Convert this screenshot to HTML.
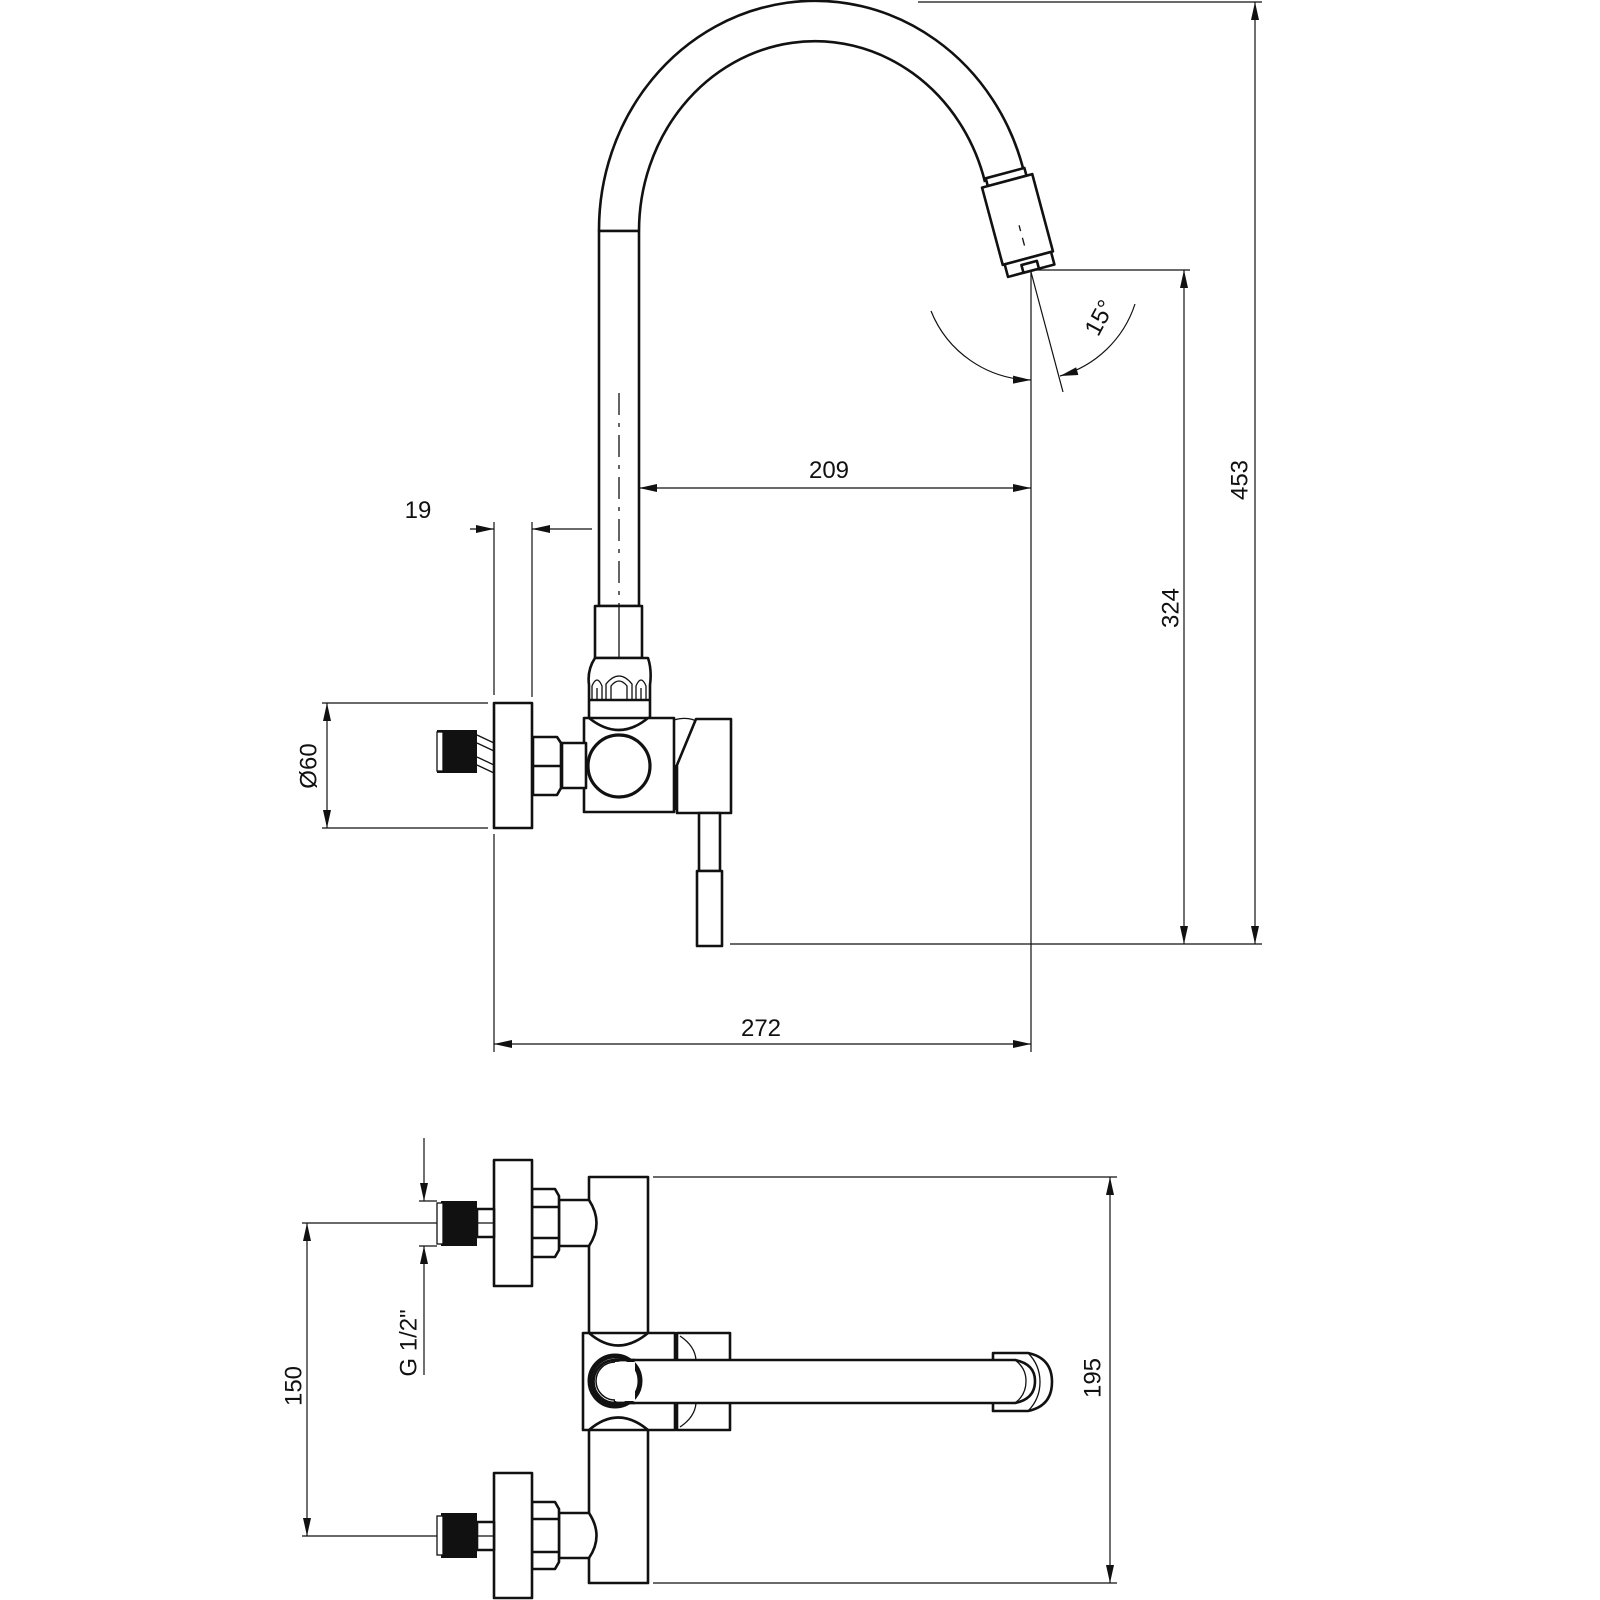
<!DOCTYPE html>
<html><head><meta charset="utf-8"><style>
html,body{margin:0;padding:0;background:#fff}
svg{display:block}
.o{fill:#fff;stroke:#111;stroke-width:2.6;stroke-linejoin:round}
.n{fill:none;stroke:#111;stroke-width:2.6}
.t{fill:none;stroke:#111;stroke-width:1.3}
.d{fill:none;stroke:#111;stroke-width:1.2}
text{font-family:"Liberation Sans Narrow","Liberation Sans",sans-serif;font-size:24px;fill:#111}
</style></head><body>
<svg width="1600" height="1600" viewBox="0 0 1600 1600" xmlns="http://www.w3.org/2000/svg">
<defs>
<marker id="a" markerUnits="userSpaceOnUse" markerWidth="20" markerHeight="10" refX="18" refY="4" orient="auto-start-reverse"><path d="M0,0 L18,4 L0,8 z" fill="#111"/></marker>
</defs>

<path class="n" d="M599,231 A216,229 0 0 1 1024,172"/>
<path class="n" d="M639,231 A176,190 0 0 1 985,182"/>
<line class="n" x1="599" y1="231" x2="639" y2="231"/>
<rect class="o" x="599" y="231" width="40" height="375"/>
<line class="t" x1="619" y1="393" x2="619" y2="606" stroke-dasharray="22,8,4,8"/>
<g transform="translate(1017.5,219.5) rotate(-15)">
<rect class="o" x="-20" y="-48" width="40" height="8"/>
<rect class="o" x="-26" y="-40" width="52" height="80"/>
<rect class="o" x="-24" y="40" width="48" height="13"/>
<rect class="o" x="-8" y="45" width="16" height="8"/>
<line class="t" x1="0" y1="6" x2="0" y2="12"/>
<line class="t" x1="0" y1="19" x2="0" y2="27"/>
</g>
<rect class="o" x="595" y="606" width="47" height="52"/>
<line class="t" x1="619" y1="606" x2="619" y2="658"/>
<path class="o" d="M595,658 L648,658 Q652,670 650,685 L650,718 L589,718 L589,685 Q587,670 595,658 Z"/>
<line class="n" x1="589" y1="700" x2="650" y2="700"/>
<path class="t" d="M592,700 L592,686 Q597,674 602,686 L602,700 M606,700 L606,684 Q619,668 632,684 L632,700 M611,700 L611,686 Q619,676 627,686 L627,700 M636,700 L636,686 Q641,674 646,686 L646,700 M597,688 L597,700 M641,688 L641,700"/>
<path class="o" d="M584,718 L589,718 Q619,742 648,718 L674,718 L674,812 L584,812 Z"/>
<circle cx="619" cy="766" r="31" fill="#fff" stroke="#111" stroke-width="3.2"/>
<rect class="o" x="562" y="743" width="24" height="45"/>
<path class="o" d="M533,737 L557,737 L561,743 L561,788 L557,795 L533,795 Z"/>
<line class="n" x1="533" y1="766" x2="561" y2="766"/>
<rect class="o" x="494" y="703" width="38" height="125"/>
<path class="t" d="M477,735 L494,743 M477,743 L494,751 M477,757 L494,765 M477,765 L494,773"/>
<rect x="437" y="730" width="40" height="43" fill="#111"/>
<rect x="437" y="732" width="6" height="39" fill="#fff" stroke="#111" stroke-width="1.3"/>
<path class="t" d="M674,720 Q688,716 698,722"/>
<line class="n" x1="676" y1="765" x2="676" y2="810"/>
<path class="o" d="M696,719 L731,719 L731,813 L677,813 L677,765 Z"/>
<rect class="o" x="699" y="813" width="21" height="58"/>
<rect class="o" x="697" y="871" width="25" height="75"/>

<line class="d" x1="918" y1="2" x2="1262" y2="2"/>
<line class="d" x1="1255" y1="2" x2="1255" y2="944" marker-start="url(#a)" marker-end="url(#a)"/>
<line class="d" x1="1036" y1="270" x2="1190" y2="270"/>
<line class="d" x1="730" y1="944" x2="1262" y2="944"/>
<line class="d" x1="1184" y1="270" x2="1184" y2="944" marker-start="url(#a)" marker-end="url(#a)"/>
<line class="d" x1="1031" y1="270" x2="1031" y2="1052"/>
<line class="d" x1="639" y1="488" x2="1031" y2="488" marker-start="url(#a)" marker-end="url(#a)"/>
<line class="d" x1="494" y1="834" x2="494" y2="1052"/>
<line class="d" x1="494" y1="1044" x2="1031" y2="1044" marker-start="url(#a)" marker-end="url(#a)"/>
<line class="d" x1="494" y1="522" x2="494" y2="695"/>
<line class="d" x1="532" y1="522" x2="532" y2="697"/>
<line class="d" x1="470" y1="529" x2="494" y2="529" marker-end="url(#a)"/>
<line class="d" x1="592" y1="529" x2="532" y2="529" marker-end="url(#a)"/>
<line class="d" x1="322" y1="703" x2="488" y2="703"/>
<line class="d" x1="322" y1="828" x2="488" y2="828"/>
<line class="d" x1="327" y1="703" x2="327" y2="828" marker-start="url(#a)" marker-end="url(#a)"/>
<path class="d" d="M931,311 A110,110 0 0 0 1031,380" marker-end="url(#a)"/>
<path class="d" d="M1135,304 A110,110 0 0 1 1060,376" marker-end="url(#a)"/>
<line class="d" x1="1031" y1="272" x2="1063" y2="392"/>

<text x="418" y="518" text-anchor="middle">19</text>
<text x="829" y="478" text-anchor="middle">209</text>
<text x="761" y="1036" text-anchor="middle">272</text>
<text transform="translate(1240,480) rotate(-90)" text-anchor="middle" dominant-baseline="central">453</text>
<text transform="translate(1171,608) rotate(-90)" text-anchor="middle" dominant-baseline="central">324</text>
<text transform="translate(309,766) rotate(-90)" text-anchor="middle" dominant-baseline="central">Ø60</text>
<text transform="translate(1100,318) rotate(-62)" text-anchor="middle" dominant-baseline="central">15°</text>

<!-- BOTTOM VIEW -->
<path class="o" d="M589,1177 L648,1177 L648,1333 L589,1333 Z"/>
<path class="o" d="M589,1430 L648,1430 L648,1583 L589,1583 Z"/>
<path class="o" d="M583,1333 L589,1333 Q618,1358 648,1333 L675,1333 L675,1430 L648,1430 Q618,1405 589,1430 L583,1430 Z"/>
<rect class="o" x="677" y="1333" width="53" height="97"/>
<path class="t" d="M680,1336 Q695,1346 696,1360 M680,1427 Q695,1417 696,1403"/>
<!-- end cap (behind tube) -->
<path class="o" d="M993,1353 L1028,1353 Q1052,1358 1052,1382 Q1052,1406 1028,1411 L993,1411 Z"/>
<path class="t" d="M1028,1353 Q1040,1365 1040,1382 Q1040,1399 1028,1411"/>
<!-- tube -->
<path class="o" d="M615,1360 L1015,1360 Q1035,1364 1035,1381 Q1035,1399 1015,1403 L615,1403 Z"/>
<path class="t" d="M1015,1360 Q1026,1368 1026,1381 Q1026,1395 1015,1403"/>
<circle cx="615" cy="1381" r="25" fill="none" stroke="#111" stroke-width="5"/>
<circle cx="615" cy="1381" r="19" fill="#fff" stroke="#111" stroke-width="1.5"/>
<rect x="615" y="1362" width="20" height="39" fill="#fff"/>
<path class="n" d="M635,1360 L615,1360 A21,21 0 0 0 615,1403 L635,1403"/>
<path class="o" d="M559,1200 L589,1200 Q604,1223 589,1246 L559,1246 Z"/>
<path class="o" d="M532,1189 L555,1189 L559,1196 L559,1250 L555,1257 L532,1257 Z"/>
<line class="n" x1="532" y1="1207" x2="559" y2="1207"/>
<line class="n" x1="532" y1="1238" x2="559" y2="1238"/>
<rect class="o" x="494" y="1160" width="38" height="126"/>
<rect class="o" x="477" y="1209" width="17" height="28"/>
<line class="t" x1="477" y1="1223" x2="494" y2="1223"/>
<rect x="441" y="1201" width="36" height="45" fill="#111"/>
<rect x="437" y="1203" width="6" height="41" fill="#fff" stroke="#111" stroke-width="1.3"/>
<path class="o" d="M559,1513 L589,1513 Q604,1536 589,1558 L559,1558 Z"/>
<path class="o" d="M532,1502 L555,1502 L559,1509 L559,1562 L555,1569 L532,1569 Z"/>
<line class="n" x1="532" y1="1519" x2="559" y2="1519"/>
<line class="n" x1="532" y1="1552" x2="559" y2="1552"/>
<rect class="o" x="494" y="1473" width="38" height="125"/>
<rect class="o" x="477" y="1522" width="17" height="28"/>
<line class="t" x1="477" y1="1536" x2="494" y2="1536"/>
<rect x="441" y="1513" width="36" height="45" fill="#111"/>
<rect x="437" y="1516" width="6" height="39" fill="#fff" stroke="#111" stroke-width="1.3"/>

<line class="d" x1="653" y1="1177" x2="1117" y2="1177"/>
<line class="d" x1="653" y1="1583" x2="1117" y2="1583"/>
<line class="d" x1="1110" y1="1177" x2="1110" y2="1583" marker-start="url(#a)" marker-end="url(#a)"/>
<line class="d" x1="302" y1="1223" x2="437" y2="1223"/>
<line class="d" x1="302" y1="1536" x2="437" y2="1536"/>
<line class="d" x1="307" y1="1223" x2="307" y2="1536" marker-start="url(#a)" marker-end="url(#a)"/>
<line class="d" x1="419" y1="1201" x2="437" y2="1201"/>
<line class="d" x1="419" y1="1246" x2="437" y2="1246"/>
<line class="d" x1="424" y1="1138" x2="424" y2="1201" marker-end="url(#a)"/>
<line class="d" x1="424" y1="1375" x2="424" y2="1246" marker-end="url(#a)"/>

<text transform="translate(294,1386) rotate(-90)" text-anchor="middle" dominant-baseline="central">150</text>
<text transform="translate(409,1343) rotate(-90)" text-anchor="middle" dominant-baseline="central">G 1/2"</text>
<text transform="translate(1093,1378) rotate(-90)" text-anchor="middle" dominant-baseline="central">195</text>
</svg>
</body></html>
